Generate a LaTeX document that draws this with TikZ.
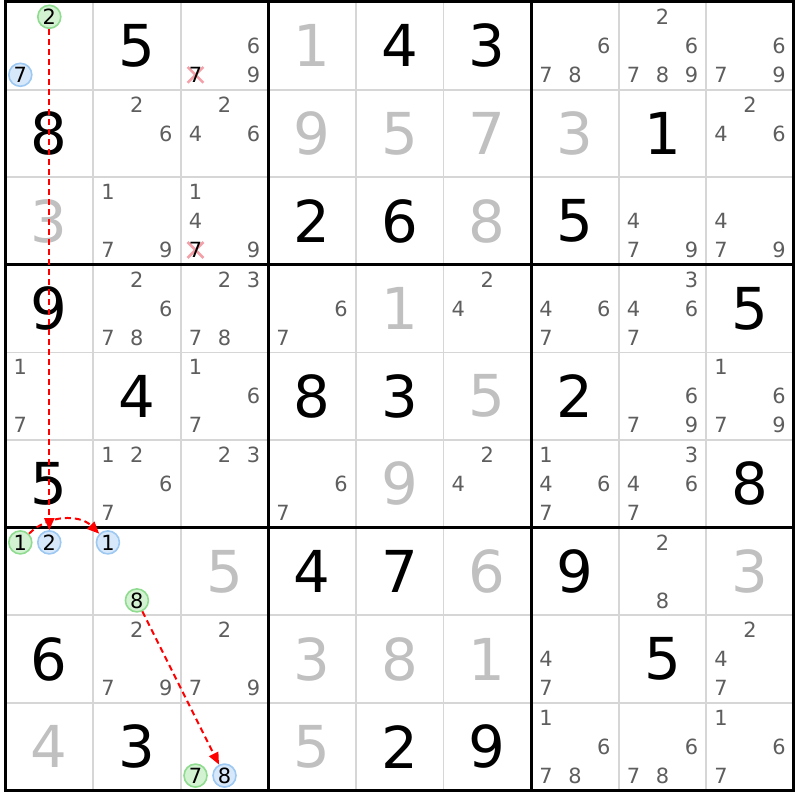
\documentclass[tikz,border=0pt]{standalone}
\usepackage{fontspec}
\setmainfont{DejaVu Sans}
\usepackage{tikz}
\usetikzlibrary{arrows.meta,calc}
\definecolor{candgray}{HTML}{5E5E5E}
\definecolor{solvedgray}{HTML}{C0C0C0}
\definecolor{gridgray}{HTML}{D6D6D6}
\definecolor{onfill}{HTML}{D2F2D2}
\definecolor{ondraw}{HTML}{8FDB8F}
\definecolor{offfill}{HTML}{D6E8FA}
\definecolor{offdraw}{HTML}{9CC8F2}
\definecolor{crossred}{HTML}{F4A0A8}
\definecolor{linkred}{HTML}{FF0000}
\tikzset{
  given/.style={font=\fontsize{58}{60}\selectfont,text=black,inner sep=0pt},
  solved/.style={given,text=solvedgray},
  cand/.style={font=\fontsize{21}{22}\selectfont,text=candgray,inner sep=0pt},
  oncand/.style={circle,draw=ondraw,fill=onfill,line width=1.6bp,minimum size=23bp,
    inner sep=0pt,font=\fontsize{21}{22}\selectfont},
  offcand/.style={oncand,draw=offdraw,fill=offfill},
  thinline/.style={gridgray,line width=1.8bp},
  boxline/.style={black,line width=3bp},
  cross/.style={crossred,line width=2.5bp},
  link/.style={draw=linkred,line width=2bp,dash pattern=on 6bp off 4bp,
    -{Triangle[length=12bp,width=10bp,fill=linkred]}}
}
% centre of candidate #3 in cell (row #1, col #2)
\newcommand\candxy[3]{%
  \pgfmathsetmacro\px{#2+0.5+(mod(#3-1,3)-1)*0.331}%
  \pgfmathsetmacro\py{#1+0.5+(int((#3-1)/3)-1)*0.331}}

\begin{document}
\begin{tikzpicture}[x=87.6bp,y=-87.6bp]
  \useasboundingbox[fill=white] (-0.0628,-0.0228) rectangle (9.0696,9.1096);
  % grid
  \foreach \i in {1,2,4,5,7,8} {
    \draw[thinline] (\i,0) -- (\i,9);
    \draw[thinline] (0,\i) -- (9,\i);
  }
  \foreach \i in {0,3,6,9} {
    \draw[boxline] (\i,-0.017) -- (\i,9.017);
    \draw[boxline] (-0.017,\i) -- (9.017,\i);
  }
  % givens and solved cells
  \foreach \r/\c/\d in {0/1/5,0/4/4,0/5/3,1/0/8,1/7/1,2/3/2,2/4/6,2/6/5,3/0/9,
      3/8/5,4/1/4,4/3/8,4/4/3,4/6/2,5/0/5,5/8/8,6/3/4,6/4/7,6/6/9,7/0/6,
      7/7/5,8/1/3,8/4/2,8/5/9}
    \node[given] at (\c+0.5,\r+0.5) {\d};
  \foreach \r/\c/\d in {0/3/1,1/3/9,1/4/5,1/5/7,1/6/3,2/0/3,2/5/8,3/4/1,4/5/5,
      5/4/9,6/2/5,6/5/6,6/8/3,7/3/3,7/4/8,7/5/1,8/0/4,8/3/5}
    \node[solved] at (\c+0.5,\r+0.5) {\d};
  % candidates
  \foreach \r/\c/\ds in {0/2/{6,9},0/6/{6,7,8},0/7/{2,6,7,8,9},0/8/{6,7,9},
      1/1/{2,6},1/2/{2,4,6},1/8/{2,4,6},
      2/1/{1,7,9},2/2/{1,4,9},2/7/{4,7,9},2/8/{4,7,9},
      3/1/{2,6,7,8},3/2/{2,3,7,8},3/3/{6,7},3/5/{2,4},3/6/{4,6,7},3/7/{3,4,6,7},
      4/0/{1,7},4/2/{1,6,7},4/7/{6,7,9},4/8/{1,6,7,9},
      5/1/{1,2,6,7},5/2/{2,3},5/3/{6,7},5/5/{2,4},5/6/{1,4,6,7},5/7/{3,4,6,7},
      6/7/{2,8},7/1/{2,7,9},7/2/{2,7,9},7/6/{4,7},7/8/{2,4,7},
      8/6/{1,6,7,8},8/7/{6,7,8},8/8/{1,6,7}}
    \foreach \d in \ds {
      \candxy{\r}{\c}{\d}
      \node[cand] at (\px,\py) {\d};
    }
  % eliminated candidates
  \foreach \r/\c in {0/2,2/2} {
    \candxy{\r}{\c}{7}
    \draw[cross] (\px-0.09,\py-0.09) -- (\px+0.09,\py+0.09);
    \draw[cross] (\px-0.09,\py+0.09) -- (\px+0.09,\py-0.09);
    \node[cand,text=black] at (\px,\py) {7};
  }
  % chain
  \candxy{0}{0}{2}\node[oncand] (r0c0n2) at (\px,\py) {2};
  \candxy{0}{0}{7}\node[offcand] (r0c0n7) at (\px,\py) {7};
  \candxy{6}{0}{1}\node[oncand] (r6c0n1) at (\px,\py) {1};
  \candxy{6}{0}{2}\node[offcand] (r6c0n2) at (\px,\py) {2};
  \candxy{6}{1}{1}\node[offcand] (r6c1n1) at (\px,\py) {1};
  \candxy{6}{1}{8}\node[oncand] (r6c1n8) at (\px,\py) {8};
  \candxy{8}{2}{7}\node[oncand] (r8c2n7) at (\px,\py) {7};
  \candxy{8}{2}{8}\node[offcand] (r8c2n8) at (\px,\py) {8};
  \draw[link] (r0c0n2) -- (r6c0n2);
  \draw[link] (r6c0n1) to[bend left=45] (r6c1n1);
  \draw[link] (r6c1n8) -- (r8c2n8);
\end{tikzpicture}
\end{document}
